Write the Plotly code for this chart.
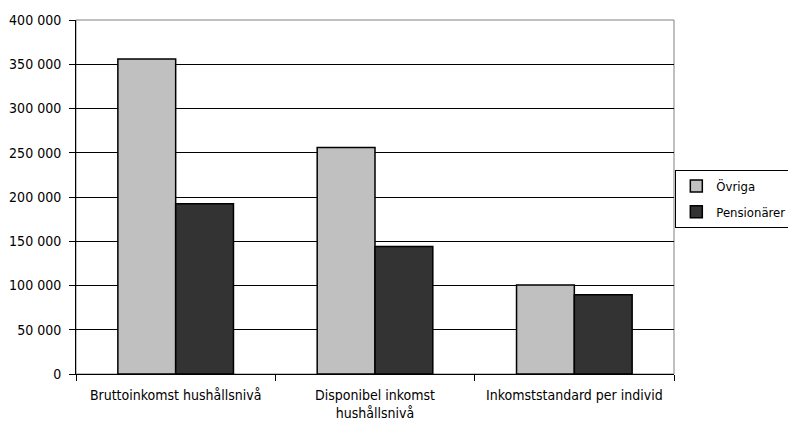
import plotly.graph_objects as go

categories = ["Bruttoinkomst hushållsnivå", "Disponibel inkomst<br>hushållsnivå", "Inkomststandard per individ"]
ovriga = [356000, 256000, 100500]
pensionarer = [192500, 144000, 89500]
y_ticks = [0, 50000, 100000, 150000, 200000, 250000, 300000, 350000, 400000]

FONT = "Liberation Sans Narrow, DejaVu Sans Condensed, sans-serif"

fig = go.Figure()
fig.add_trace(go.Bar(name="Övriga", x=categories, y=ovriga, legendgroup="a",
                     marker=dict(color="#c0c0c0", line=dict(color="black", width=1.5))))
fig.add_trace(go.Bar(name="Pensionärer", x=categories, y=pensionarer, legendgroup="b",
                     marker=dict(color="#333333", line=dict(color="black", width=1.5))))

fig.update_layout(
    width=788, height=428,
    margin=dict(l=76, r=114, t=20, b=54, autoexpand=False),
    paper_bgcolor="white", plot_bgcolor="white",
    barmode="group", bargap=0.42, bargroupgap=0,
    separators=", ",
    font=dict(family=FONT, size=14, color="black"),
    showlegend=True,
    legend=dict(xref="container", yref="container", x=0.857, y=0.535,
                xanchor="left", yanchor="middle",
                bordercolor="black", borderwidth=1, bgcolor="white",
                font=dict(family=FONT, size=13), itemwidth=30,
                traceorder="grouped", tracegroupgap=6),
    shapes=[dict(type="rect", xref="paper", yref="paper", x0=0, y0=0, x1=1, y1=1,
                 line=dict(color="#808080", width=1), layer="below")],
)
fig.update_xaxes(
    type="category", tickson="boundaries", ticks="outside", ticklen=6,
    tickcolor="black", showline=True, linecolor="black", linewidth=1,
    showgrid=False, tickfont=dict(family=FONT, size=14), tickangle=0,
    ticklabelstandoff=8, automargin=False,
)
fig.update_yaxes(
    range=[0, 400000], tickvals=y_ticks, tickformat=",d",
    ticks="outside", ticklen=6, tickcolor="black",
    showline=True, linecolor="black", linewidth=1,
    showgrid=True, gridcolor="black", gridwidth=1,
    zeroline=False, tickfont=dict(family=FONT, size=14),
    ticklabelstandoff=5, automargin=False,
)

fig.write_html("out.html")
